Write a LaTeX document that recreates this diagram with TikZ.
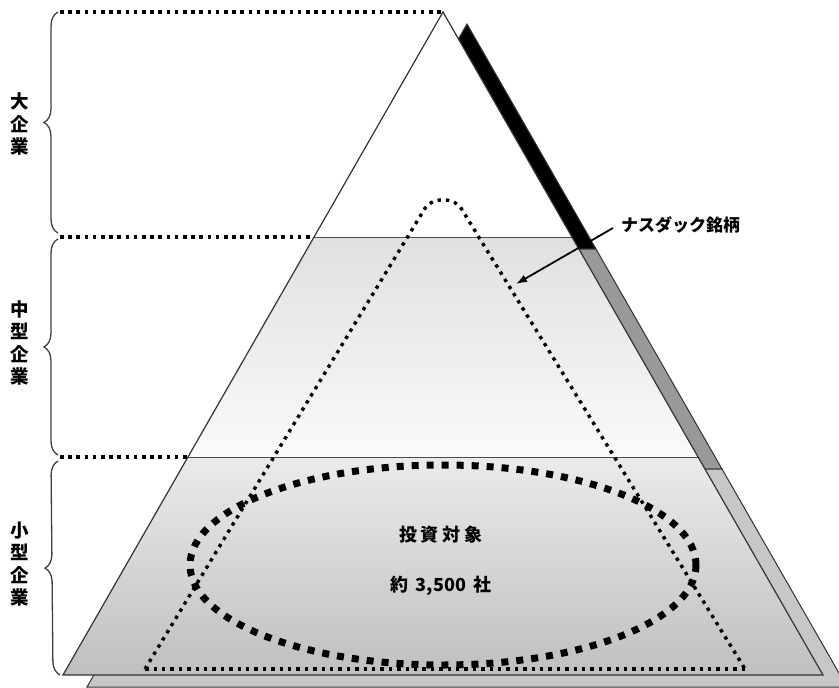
\documentclass[tikz,border=0pt]{standalone}
\usepackage{fontspec}
\newfontfamily\cjk{Noto Sans CJK JP}
\usetikzlibrary{decorations.pathreplacing, arrows.meta}
\begin{document}
\begin{tikzpicture}[x=1pt,y=-1pt,
  outline/.style={draw=black!80, line width=1.2pt},
  bandline/.style={draw=black!70, line width=1pt},
  guide/.style={line width=3.6pt, dash pattern=on 3.6pt off 4.6pt},
  smalldots/.style={line width=3.4pt, dash pattern=on 3.4pt off 5pt},
  bigdots/.style={line width=7pt, dash pattern=on 7pt off 8pt},
  bracestyle/.style={decorate, decoration={brace, amplitude=14pt}, draw=black!75, line width=1.3pt},
  vlabel/.style={font=\cjk\bfseries\fontsize{18.5}{22.5}\selectfont, align=center, inner sep=0pt},
  ctext/.style={font=\cjk\bfseries\fontsize{18}{22}\selectfont, inner sep=0pt},
]
\clip (0,0) rectangle (839,688);
\fill[white] (0,0) rectangle (839,688);

% shadow (side face)
\coordinate (sapex) at (467,24);
\coordinate (sl1) at (338,249);   \coordinate (sr1) at (596,249);
\coordinate (sl2) at (212,469);   \coordinate (sr2) at (722,469);
\coordinate (sbl) at (87,687);    \coordinate (sbr) at (847,687);
\filldraw[fill=black, draw=black!80, line width=1pt] (sapex) -- (sr1) -- (sl1) -- cycle;
\filldraw[fill=black!40, draw=black!80, line width=1pt] (sl1) -- (sr1) -- (sr2) -- (sl2) -- cycle;
\filldraw[fill=black!22, draw=black!80, line width=1pt] (sl2) -- (sr2) -- (sbr) -- (sbl) -- cycle;

% main triangle
\coordinate (apex) at (443,12);
\coordinate (l1) at (314,237);   \coordinate (r1) at (572,237);
\coordinate (l2) at (187.9,457); \coordinate (r2) at (698.1,457);
\coordinate (bl) at (63,675);    \coordinate (br) at (823,675);
\fill[white] (apex) -- (r1) -- (l1) -- cycle;
\shade[top color=black!12, bottom color=black!2] (l1) -- (r1) -- (r2) -- (l2) -- cycle;
\shade[top color=black!8, bottom color=black!25] (l2) -- (r2) -- (br) -- (bl) -- cycle;
\draw[bandline] (l1) -- (r1);
\draw[bandline] (l2) -- (r2);
\draw[outline] (apex) -- (br) -- (bl) -- cycle;

% guide lines
\coordinate (g0) at (60,12);
\coordinate (g1) at (60,237);
\coordinate (g2) at (60,457);
\draw[guide] (g0) -- (apex);
\draw[guide] (g1) -- (l1);
\draw[guide] (g2) -- (l2);

% braces
\draw[bracestyle] (58,233) -- (58,12);
\draw[bracestyle] (58,455) -- (58,239);
\draw[bracestyle] (60,675) -- (58,461);

% labels
\node[vlabel] (large) at (20,124) {大\\企\\業};
\node[vlabel] (mid) at (20,343) {中\\型\\企\\業};
\node[vlabel] (small) at (20,564) {小\\型\\企\\業};

% dotted inner triangle (NASDAQ)
\coordinate (nbl) at (145,669);
\coordinate (ntl) at (430,200);
\coordinate (ntr) at (456,200);
\coordinate (nbr) at (745,669);
\draw[smalldots, rounded corners=10pt] (nbl) -- (ntl) -- (ntr) -- (nbr);
\draw[smalldots] (nbr) -- (nbl);

% thick dotted ellipse
\draw[bigdots] (443,565) ellipse [x radius=253, y radius=100];

% centre texts
\node[ctext] (target) at (441,535) {投\hspace{4pt}資\hspace{4pt}対\hspace{4pt}象};
\node[ctext] (count) at (441,586) {約\hspace{7pt}3,500\hspace{7pt}社};

% NASDAQ label and arrow
\node[ctext, anchor=west, font=\cjk\bfseries\fontsize{17}{20}\selectfont] (nasdaq) at (621,225) {ナスダック銘柄};
\coordinate (arrS) at (613,228);
\coordinate (arrE) at (516,284);
\draw[line width=1.8pt, -{Latex[length=11pt,width=8pt]}] (arrS) -- (arrE);
\end{tikzpicture}
\end{document}
